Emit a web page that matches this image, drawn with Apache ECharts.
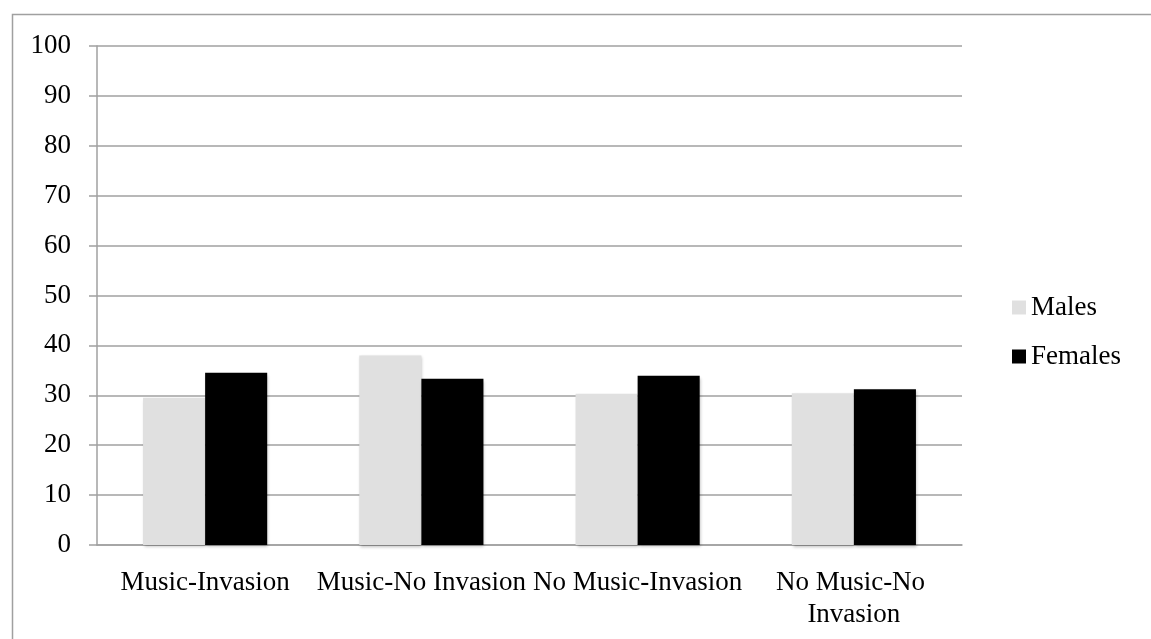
<!DOCTYPE html>
<html>
<head>
<meta charset="utf-8">
<script src="https://cdn.jsdelivr.net/npm/echarts@6/dist/echarts.min.js"></script>
<style>
  html, body { margin: 0; padding: 0; background: #fff; }
  #chart { width: 1151px; height: 639px; }
</style>
</head>
<body>
<div id="chart"></div>
<script>
// Conditions and group means
const categories = ['Music-Invasion', 'Music-No Invasion', 'No Music-Invasion', 'No Music-No Invasion'];
const males = [29.5, 38.0, 30.3, 30.4];
const females = [34.5, 33.3, 33.9, 31.2];
const seriesNames = ['Males', 'Females'];

const FONT = '"Liberation Serif", "DejaVu Serif", serif';
const FONT_SIZE = 27;
const chart = echarts.init(document.getElementById('chart'));

const barShadow = {
  shadowBlur: 3,
  shadowOffsetX: 1,
  shadowOffsetY: 2,
  shadowColor: 'rgba(0,0,0,0.25)'
};

chart.setOption({
  animation: false,
  backgroundColor: '#fff',
  graphic: [{
    type: 'rect',
    left: 10, top: 12,
    shape: { width: 1300, height: 800 },
    style: { fill: 'none', stroke: '#a0a0a0', lineWidth: 1.5 },
    silent: true
  }],
  grid: { left: 97, right: 189, top: 46, bottom: 94, containLabel: false },
  legend: {
    orient: 'vertical',
    left: 1007,
    top: 289,
    itemWidth: 14,
    itemHeight: 14,
    itemGap: 22,
    icon: 'rect',
    textStyle: { fontFamily: FONT, fontSize: FONT_SIZE, color: '#000' },
    data: seriesNames
  },
  xAxis: {
    type: 'category',
    data: categories,
    axisLine: { show: true, lineStyle: { color: '#a0a0a0', width: 1.5 } },
    axisTick: { show: false },
    axisLabel: {
      interval: 0,
      margin: 22,
      fontFamily: FONT,
      fontSize: FONT_SIZE,
      color: '#000',
      width: 216,
      overflow: 'break',
      lineHeight: 32
    }
  },
  yAxis: {
    type: 'value',
    min: 0,
    max: 100,
    interval: 10,
    axisLine: { show: true, lineStyle: { color: '#a0a0a0', width: 1.5 } },
    axisTick: { show: true, length: 8, lineStyle: { color: '#a0a0a0', width: 1.5 } },
    axisLabel: { margin: 26, fontFamily: FONT, fontSize: FONT_SIZE, color: '#000' },
    splitLine: { show: true, lineStyle: { color: '#a0a0a0', width: 1.5 } }
  },
  series: [
    {
      name: seriesNames[0],
      type: 'bar',
      data: males,
      barGap: '0%',
      barCategoryGap: '42.6%',
      itemStyle: Object.assign({ color: '#e0e0e0' }, barShadow)
    },
    {
      name: seriesNames[1],
      type: 'bar',
      data: females,
      barGap: '0%',
      barCategoryGap: '42.6%',
      itemStyle: Object.assign({ color: '#000000' }, barShadow)
    }
  ]
});
</script>
</body>
</html>
